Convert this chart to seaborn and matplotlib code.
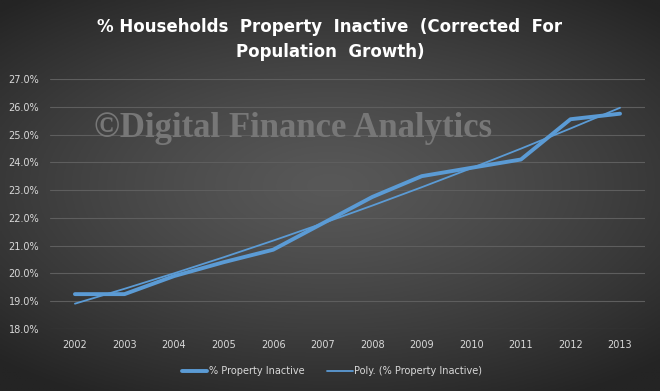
import numpy as np
import pandas as pd
import seaborn as sns
import matplotlib.pyplot as plt

# valores
anos = [2002, 2003, 2004, 2005, 2006, 2007, 2008, 2009, 2010, 2011, 2012, 2013]
inativos = [19.25, 19.25, 19.9, 20.4, 20.85, 21.8, 22.75, 23.5, 23.8, 24.1, 25.55, 25.75]

df = pd.DataFrame({"pos": np.arange(len(anos)), "valor": inativos})
coef = np.polyfit(df["pos"], df["valor"], 2)
df["poly"] = np.polyval(coef, df["pos"])

sns.set_style("dark")
plt.rcParams["font.family"] = ["DejaVu Sans"]

fig = plt.figure(figsize=(6.6, 3.91), dpi=100)

# fundo com gradiente radial (centro mais claro)
bg = fig.add_axes([0, 0, 1, 1])
yy, xx = np.mgrid[-1:1:200j, -1:1:300j]
r = np.clip(np.sqrt((xx * 0.85) ** 2 + ((yy + 0.05) * 1.0) ** 2) / 1.25, 0, 1)
g = (88 - 52 * r ** 1.3) / 255
bg.imshow(np.dstack([g, g, g]), aspect="auto", extent=[0, 1, 0, 1])
bg.axis("off")

ax = fig.add_axes([0.076, 0.159, 0.901, 0.639])
ax.set_facecolor("none")

cor = "#5B9BD5"
sns.lineplot(data=df, x="pos", y="valor", ax=ax, color=cor, linewidth=2.8,
             label="% Property Inactive", solid_joinstyle="round")
sns.lineplot(data=df, x="pos", y="poly", ax=ax, color=cor, linewidth=1.3,
             label="Poly. (% Property Inactive)")

ax.set_xlim(-0.5, len(anos) - 0.5)
ax.set_ylim(18, 27)
ax.set_yticks(np.arange(18, 27.5, 1))
ax.set_yticklabels([f"{v:.1f}%" for v in np.arange(18, 27.5, 1)])
ax.set_xticks(df["pos"])
ax.set_xticklabels([str(a) for a in anos])
ax.tick_params(colors="#d9d9d9", labelsize=7, length=0, pad=8)
ax.grid(axis="y", color="#5e5e5e", linewidth=0.8)
ax.grid(axis="x", visible=False)
ax.set_xlabel("")
ax.set_ylabel("")
for s in ax.spines.values():
    s.set_visible(False)

handles, labels = ax.get_legend_handles_labels()
ax.get_legend().remove()
leg = fig.legend(handles, labels, loc="center", bbox_to_anchor=(0.503, 0.05), ncol=2,
                 frameon=False, fontsize=7, handlelength=2.6, columnspacing=2.4,
                 handletextpad=0.15)
for t in leg.get_texts():
    t.set_color("#d9d9d9")

fig.text(0.5, 0.93, "% Households  Property  Inactive  (Corrected  For",
         ha="center", va="center", color="white", fontsize=12, fontweight="bold")
fig.text(0.5, 0.868, "Population  Growth)",
         ha="center", va="center", color="white", fontsize=12, fontweight="bold")

fig.text(0.143, 0.672, "©Digital Finance Analytics", ha="left", va="center",
         color="#777777", fontsize=25, fontweight="bold",
         family=["Liberation Serif", "DejaVu Serif"])

fig.savefig("out.png", dpi=100)
